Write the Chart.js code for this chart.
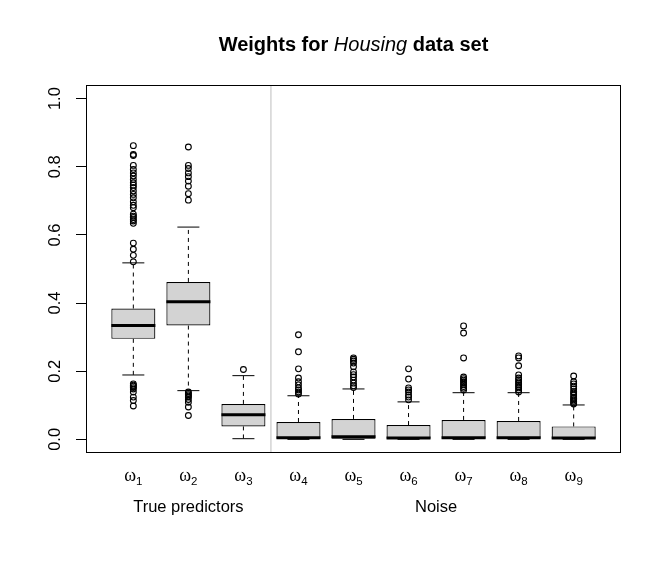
<!DOCTYPE html>
<html>
<head>
<meta charset="utf-8">
<script src="https://cdn.jsdelivr.net/npm/chart.js@4.4.1/dist/chart.umd.min.js"></script>
<style>
  html, body { margin: 0; padding: 0; background: #fff; }
  #wrap { position: relative; width: 664px; height: 561px; }
  #title { position: absolute; left: 86px; width: 535px; top: 34px; text-align: center;
           font: bold 20px 'Liberation Sans', Arial, sans-serif; line-height: 20px; color: #000; white-space: nowrap; }
  #title i { font-weight: normal; font-style: italic; }
  canvas { position: absolute; left: 0; top: 0; }
</style>
</head>
<body>
<div id="wrap">
  <canvas id="c" width="664" height="561"></canvas>
  <div id="title">Weights for <i>Housing</i> data set</div>
</div>
<script>
// ---- data ----
const positions   = [1, 2, 3, 4, 5, 6, 7, 8, 9];
const subscripts  = ['1', '2', '3', '4', '5', '6', '7', '8', '9'];
const q1          = [0.295, 0.334, 0.038, 0.000, 0.000, 0.000, 0.000, 0.000, 0.000];
const medians     = [0.334, 0.404, 0.072, 0.005, 0.008, 0.004, 0.005, 0.005, 0.004];
const q3          = [0.384, 0.462, 0.104, 0.051, 0.060, 0.042, 0.057, 0.054, 0.038];
const lowWhisker  = [0.189, 0.143, 0.002, 0.000, 0.000, 0.000, 0.000, 0.000, 0.000];
const highWhisker = [0.518, 0.623, 0.187, 0.128, 0.148, 0.110, 0.137, 0.137, 0.101];
const outliers = [
  [0.862, 0.836, 0.833, 0.804, 0.792, 0.782, 0.773, 0.763, 0.753, 0.746, 0.739, 0.729, 0.719, 0.709,
   0.697, 0.687, 0.680, 0.661, 0.655, 0.651, 0.645, 0.641, 0.634, 0.576, 0.558, 0.540, 0.521,
   0.163, 0.159, 0.156, 0.152, 0.148, 0.139, 0.124, 0.114, 0.098],
  [0.858, 0.804, 0.795, 0.782, 0.771, 0.758, 0.743, 0.721, 0.702,
   0.139, 0.135, 0.131, 0.127, 0.124, 0.117, 0.109, 0.095, 0.070],
  [0.205],
  [0.307, 0.257, 0.207, 0.180, 0.169, 0.160, 0.151, 0.145, 0.139, 0.133],
  [0.239, 0.235, 0.230, 0.224, 0.213, 0.198, 0.190, 0.183, 0.174, 0.165, 0.157, 0.152],
  [0.207, 0.177, 0.151, 0.145, 0.139, 0.130, 0.124, 0.116],
  [0.333, 0.312, 0.239, 0.183, 0.178, 0.174, 0.169, 0.165, 0.160, 0.155, 0.150, 0.145],
  [0.245, 0.239, 0.216, 0.189, 0.180, 0.175, 0.169, 0.165, 0.160, 0.155, 0.151, 0.145, 0.139],
  [0.186, 0.169, 0.163, 0.156, 0.148, 0.140, 0.136, 0.130, 0.124, 0.120, 0.116, 0.112, 0.107, 0.104]
];
const groupNames   = ['True predictors', 'Noise'];
const groupMembers = [[1, 2, 3], [4, 5, 6, 7, 8, 9]];
const yTickValues  = [0, 0.2, 0.4, 0.6, 0.8, 1.0];
const yLimits      = [0, 1];

// ---- derived structures for the library ----
const halfBox = 0.4, halfCap = 0.2;
const xLo = positions[0] - 0.5, xHi = positions[positions.length - 1] + 0.5;
const xPad = (xHi - xLo) * 0.04, yPad = (yLimits[1] - yLimits[0]) * 0.04;
const dividerX = (groupMembers[0][groupMembers[0].length - 1] + groupMembers[1][0]) / 2;

const boxData = positions.map((x, i) => ({ x, y: [q1[i], q3[i]] }));
const medianData = positions.flatMap((x, i) => [
  { x: x - halfBox, y: medians[i] }, { x: x + halfBox, y: medians[i] }, { x, y: null }]);
const whiskerData = positions.flatMap((x, i) => [
  { x, y: q3[i] }, { x, y: highWhisker[i] }, { x, y: null },
  { x, y: q1[i] }, { x, y: lowWhisker[i] }, { x, y: null }]);
const capData = positions.flatMap((x, i) => [
  { x: x - halfCap, y: highWhisker[i] }, { x: x + halfCap, y: highWhisker[i] }, { x, y: null },
  { x: x - halfCap, y: lowWhisker[i] }, { x: x + halfCap, y: lowWhisker[i] }, { x, y: null }]);
const outlierData = positions.flatMap((x, i) => outliers[i].map(v => ({ x, y: v })));
const dividerData = [{ x: dividerX, y: yLimits[0] - yPad }, { x: dividerX, y: yLimits[1] + yPad }];

const SANS = "'Liberation Sans', Arial, Helvetica, sans-serif";
const SERIF = "'Liberation Serif', 'Times New Roman', serif";

const decor = {
  id: 'decor',
  afterDraw(chart) {
    const ctx = chart.ctx, a = chart.chartArea;
    const xs = chart.scales.x, ys = chart.scales.y;
    ctx.save();
    // frame
    ctx.strokeStyle = '#000';
    ctx.lineWidth = 1;
    ctx.strokeRect(a.left + 0.5, a.top + 0.5, a.right - a.left - 1, a.bottom - a.top - 1);
    ctx.fillStyle = '#000';
    // y tick labels (rotated, as in R)
    ctx.font = '16.5px ' + SANS;
    ctx.textAlign = 'center';
    ctx.textBaseline = 'alphabetic';
    yTickValues.forEach(v => {
      const py = ys.getPixelForValue(v);
      ctx.save();
      ctx.translate(a.left - 26, py);
      ctx.rotate(-Math.PI / 2);
      ctx.fillText(v.toFixed(1), 0, 0);
      ctx.restore();
    });
    // x labels: omega with subscript
    positions.forEach((p, i) => {
      const px = xs.getPixelForValue(p);
      ctx.font = '18px ' + SERIF;
      const w1 = ctx.measureText('\u03c9').width;
      ctx.font = '11.5px ' + SANS;
      const w2 = ctx.measureText(subscripts[i]).width;
      const start = px - (w1 + w2) / 2;
      ctx.textAlign = 'left';
      ctx.font = '18px ' + SERIF;
      ctx.fillText('\u03c9', start, a.bottom + 28);
      ctx.font = '11.5px ' + SANS;
      ctx.fillText(subscripts[i], start + w1, a.bottom + 32);
    });
    // group labels
    ctx.font = '16.5px ' + SANS;
    ctx.textAlign = 'center';
    groupNames.forEach((g, k) => {
      const m = groupMembers[k];
      const c = m.reduce((s, v) => s + v, 0) / m.length;
      ctx.fillText(g, xs.getPixelForValue(c), a.bottom + 59);
    });
    ctx.restore();
  }
};

new Chart(document.getElementById('c'), {
  type: 'bar',
  data: {
    datasets: [
      { type: 'line', data: dividerData, borderColor: '#bebebe', borderWidth: 1, pointRadius: 0, order: 10 },
      { type: 'bar', data: boxData, backgroundColor: '#d3d3d3', borderColor: '#000', borderWidth: 1.2,
        borderSkipped: false, categoryPercentage: 1, barPercentage: 2 * halfBox, order: 5 },
      { type: 'line', data: whiskerData, borderColor: '#000', borderWidth: 1, borderDash: [4, 4],
        pointRadius: 0, spanGaps: false, order: 4 },
      { type: 'line', data: capData, borderColor: '#000', borderWidth: 1, pointRadius: 0, spanGaps: false, order: 3 },
      { type: 'line', data: medianData, borderColor: '#000', borderWidth: 3, borderCapStyle: 'butt',
        pointRadius: 0, spanGaps: false, order: 2 },
      { type: 'scatter', data: outlierData, pointStyle: 'circle', pointRadius: 2.9,
        backgroundColor: 'rgba(0,0,0,0)', borderColor: '#000', borderWidth: 1.1, order: 1 }
    ]
  },
  options: {
    responsive: false,
    animation: false,
    events: [],
    layout: { padding: { top: 85, right: 43, left: 0, bottom: 0 } },
    plugins: { legend: { display: false }, tooltip: { enabled: false }, title: { display: false } },
    scales: {
      x: {
        type: 'linear', min: xLo - xPad, max: xHi + xPad, offset: false,
        afterBuildTicks(s) { s.ticks = positions.map(v => ({ value: v })); },
        grid: { display: false, drawTicks: false, offset: false },
        border: { display: false },
        ticks: { display: false },
        afterFit(s) { s.height = 108; }
      },
      y: {
        type: 'linear', min: yLimits[0] - yPad, max: yLimits[1] + yPad,
        afterBuildTicks(s) { s.ticks = yTickValues.map(v => ({ value: v })); },
        grid: { drawOnChartArea: false, drawTicks: true, tickLength: 10, color: '#000', lineWidth: 1 },
        border: { display: false },
        ticks: { display: false },
        afterFit(s) { s.width = 86; }
      }
    }
  },
  plugins: [decor]
});
</script>
</body>
</html>
